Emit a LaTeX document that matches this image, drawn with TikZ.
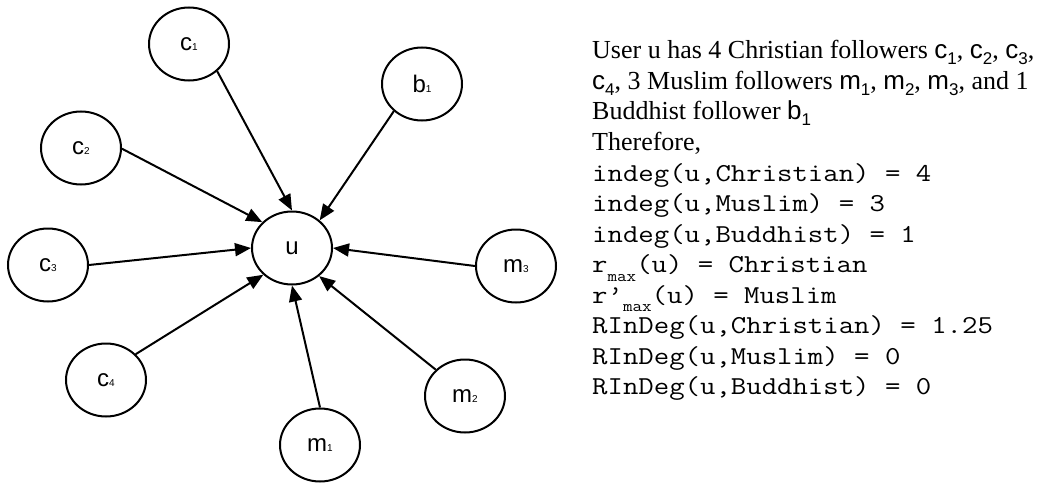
\documentclass[tikz,border=0pt]{standalone}
\usepackage{fontspec}
\setmainfont{Liberation Serif}
\setsansfont{Liberation Sans}
\setmonofont[FakeStretch=1.16]{Latin Modern Mono}
\usetikzlibrary{arrows.meta,shapes.geometric}

% follower names in the prose: sans letter with a lowered index
\newcommand\vn[2]{{\sffamily #1\raisebox{-6pt}{\fontsize{17}{17}\selectfont #2}}}
% lowered "max" index in the code lines
\newcommand\msub[1]{\raisebox{-8.5pt}{\fontsize{16}{16}\selectfont\ttfamily #1}}
% small index inside the vertex labels
\newcommand\ix[1]{{\fontsize{10}{10}\selectfont #1}}

\tikzset{
  vertex/.style={draw, ellipse, line width=2pt, minimum width=80pt,
    minimum height=73pt, inner sep=0pt,
    font=\sffamily\fontsize{24}{24}\selectfont},
  edge/.style={line width=2pt, -{Triangle[length=16pt,width=13pt]}},
  prose/.style={anchor=base west, inner sep=0pt,
    font=\rmfamily\fontsize{26}{30}\selectfont},
  code/.style={anchor=base west, inner sep=0pt,
    font=\ttfamily\fontsize{25.8}{30}\selectfont},
}

\begin{document}
\begin{tikzpicture}[x=1pt, y=-1pt]
\useasboundingbox (0,0) rectangle (1038,484);

% followers around the central user
\node[vertex] (u)  at (292,248) {u};
\node[vertex] (c1) at (189,44)  {c\ix{1}};
\node[vertex] (b1) at (422,84)  {b\ix{1}};
\node[vertex] (c2) at (81,148)  {c\ix{2}};
\node[vertex] (c3) at (48,265)  {c\ix{3}};
\node[vertex] (m3) at (516,266) {m\ix{3}};
\node[vertex] (c4) at (106,380) {c\ix{4}};
\node[vertex] (m2) at (465,396) {m\ix{2}};
\node[vertex] (m1) at (320,445) {m\ix{1}};

% follow edges into u
\draw[edge] (c1.-44)  -- (u.90);
\draw[edge] (b1.-136) -- (u.45);
\draw[edge] (c2.-1)   -- (u.139);
\draw[edge] (c3.0)    -- (u.180);
\draw[edge] (c4.41)   -- (u.-137);
\draw[edge] (m1.90)   -- (u.-90);
\draw[edge] (m2.138)  -- (u.-46);
\draw[edge] (m3.180)  -- (u.0);

% explanation
\node[prose] (t1) at (592,59) {User u has 4 Christian followers \vn{c}{1}, \vn{c}{2}, \vn{c}{3},};
\node[prose] (t2) at ([yshift=-30.5pt]t1.base west) {\vn{c}{4}, 3 Muslim followers \vn{m}{1}, \vn{m}{2}, \vn{m}{3}, and 1};
\node[prose] (t3) at ([yshift=-30.5pt]t2.base west) {Buddhist follower \vn{b}{1}};
\node[prose] (t4) at ([yshift=-30.5pt]t3.base west) {Therefore,};
\node[code] (t5)  at ([yshift=-30.5pt]t4.base west) {indeg(u,Christian) = 4};
\node[code] (t6)  at ([yshift=-30.5pt]t5.base west) {indeg(u,Muslim) = 3};
\node[code] (t7)  at ([yshift=-30.5pt]t6.base west) {indeg(u,Buddhist) = 1};
\node[code] (t8)  at ([yshift=-30.5pt]t7.base west) {r\msub{max}(u) = Christian};
\node[code] (t9)  at ([yshift=-30.5pt]t8.base west) {r’\msub{max}(u) = Muslim};
\node[code] (t10) at ([yshift=-30.5pt]t9.base west) {RInDeg(u,Christian) = 1.25};
\node[code] (t11) at ([yshift=-30.5pt]t10.base west) {RInDeg(u,Muslim) = 0};
\node[code] (t12) at ([yshift=-30.5pt]t11.base west) {RInDeg(u,Buddhist) = 0};
\end{tikzpicture}
\end{document}
